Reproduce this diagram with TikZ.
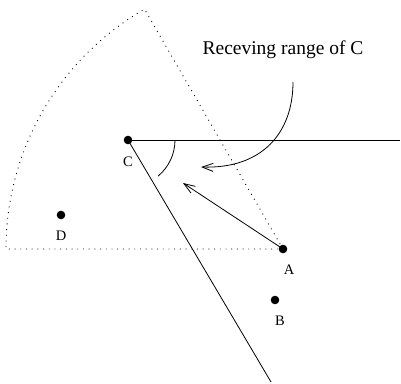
\documentclass[tikz,border=0pt]{standalone}
\usepackage{fontspec}
\setmainfont{Liberation Serif}
\usetikzlibrary{arrows.meta, positioning}

\begin{document}
\begin{tikzpicture}[x=1pt, y=1pt,
    dot/.style={circle, fill=black, inner sep=0pt, minimum size=8.6pt},
    lbl/.style={font=\fontsize{14.5}{16}\selectfont, inner sep=0pt},
    heading/.style={font=\fontsize{19.5}{22}\selectfont, inner sep=0pt},
    ray/.style={line width=0.8pt},
    rangeline/.style={line width=0.9pt, dash pattern=on 0.9pt off 4.8pt},
    arr/.style={line width=0.8pt, -{Straight Barb[length=11pt, width=8pt]}}
]
    \useasboundingbox (0,0) rectangle (401,383);
    \node [dot] (c) at (128,243) {};
    \node [dot] (a) at (283,134) {};
    \node [dot] (b) at (275,83) {};
    \node [dot] (d) at (61,168) {};
    \node [lbl, below=12pt of c] (lc) {C};
    \node [lbl, below=11pt of a, xshift=6pt] (la) {A};
    \node [lbl, below=11pt of b, xshift=5pt] (lb) {B};
    \node [lbl, below=11.5pt of d] (ld) {D};
    \node [heading] (rng) at (283,333) {Receving range of C};
    \coordinate (reast) at (400,243);
    \coordinate (rsouth) at (271,1);
    \coordinate (hit) at (183,200);
    \coordinate (from) at (293,301);
    \coordinate (into) at (201,216);
    \draw [rangeline] (a.center) -- ++(120:277) arc [start angle=120, end angle=180, radius=277] -- cycle;
    \draw [ray] (c.center) -- (reast);
    \draw [ray] (c.center) -- (rsouth);
    \draw [ray] (c.center) ++(0:47) arc [start angle=0, end angle=-50, radius=47];
    \draw [arr] (a.center) -- (hit);
    \draw [arr] (from) .. controls (293,250) and (262,214) .. (into);
\end{tikzpicture}
\end{document}
